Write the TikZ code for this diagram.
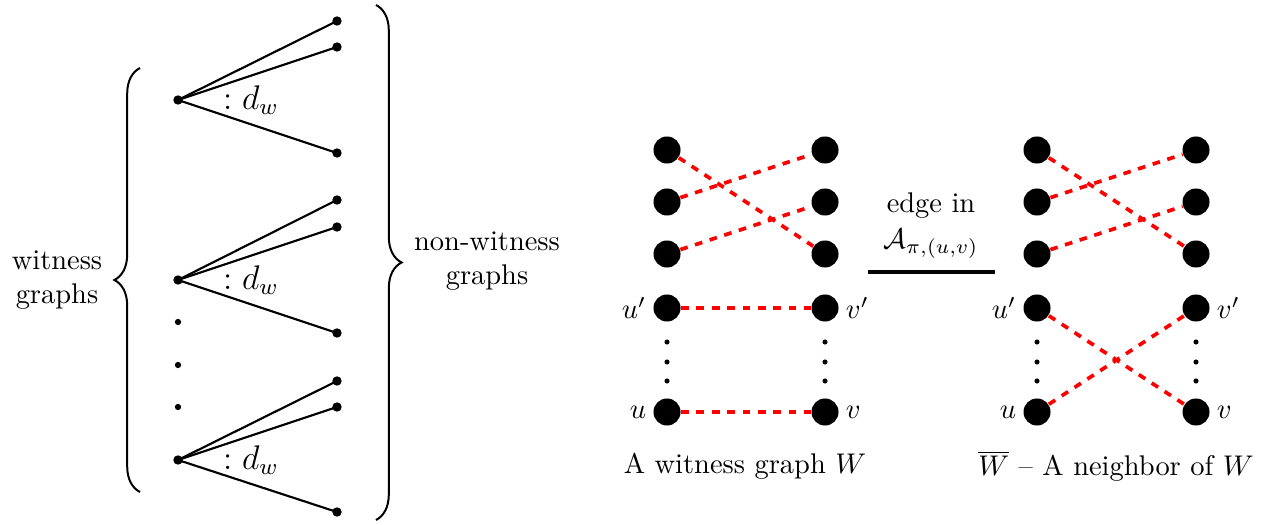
\documentclass[tikz,border=0pt]{standalone}
\usetikzlibrary{decorations.pathreplacing}
\begin{document}
\begin{tikzpicture}[x=0.3514pt,y=-0.3514pt,
  ldot/.style={circle,fill=black,inner sep=0pt,minimum size=3.3pt},
  sdot/.style={circle,fill=black,inner sep=0pt,minimum size=1.8pt},
  bdot/.style={circle,fill=black,inner sep=0pt,minimum size=9.5pt},
  ledge/.style={black,line width=0.75pt},
  redge/.style={red,line width=1.3pt,dash pattern=on 2.7pt off 2.7pt},
  bracestyle/.style={decorate,decoration={brace,amplitude=9pt},line width=0.7pt},
  lbl/.style={inner sep=1.2pt}]
\useasboundingbox (0,0) rectangle (1272,525);
% ---------- left part ----------
\foreach \g/\cy/\a/\b/\c in {1/100/21/47/153, 2/280/200/227/333, 3/460/381/407/512}{
  \node[ldot] (c\g) at (178,\cy) {};
  \node[ldot] (l\g a) at (337,\a) {};
  \node[ldot] (l\g b) at (337,\b) {};
  \node[ldot] (l\g c) at (337,\c) {};
  \draw[ledge] (c\g.center) -- (l\g a.center);
  \draw[ledge] (c\g.center) -- (l\g b.center);
  \draw[ledge] (c\g.center) -- (l\g c.center);
  \node[font=\large] (dw\g) at (251,\cy) {$: d_w$};
}
\node[sdot,minimum size=2.2pt] (m1) at (178,322) {};
\node[sdot,minimum size=2.2pt] (m2) at (178,365) {};
\node[sdot,minimum size=2.2pt] (m3) at (178,407) {};
\coordinate (lb1) at (140,492);
\coordinate (lb2) at (140,68);
\draw[bracestyle] (lb1) -- (lb2);
\node[align=center] (wg) at (57,280) {witness\\graphs};
\coordinate (rb1) at (376,5);
\coordinate (rb2) at (376,520);
\draw[bracestyle] (rb1) -- (rb2);
\node[align=center] (nwg) at (487,261) {non-witness\\graphs};
% ---------- witness graph W ----------
\foreach \n/\y in {1/150,2/202,3/254,4/308,5/412}{
  \node[bdot] (a\n) at (667,\y) {};
  \node[bdot] (b\n) at (825,\y) {};
  \node[bdot] (p\n) at (1037,\y) {};
  \node[bdot] (q\n) at (1196,\y) {};
}
\foreach \x/\nm in {667/a,825/b,1037/p,1196/q}{
  \node[sdot] (\nm d1) at (\x,342) {};
  \node[sdot] (\nm d2) at (\x,362) {};
  \node[sdot] (\nm d3) at (\x,381) {};
}
\draw[redge] (a1) -- (b3);
\draw[redge] (a2) -- (b1);
\draw[redge] (a3) -- (b2);
\draw[redge] (a4) -- (b4);
\draw[redge] (a5) -- (b5);
\node[lbl,anchor=east] (lu1) at ([xshift=-1pt]a4.west) {$u'$};
\node[lbl,anchor=west] (lv1) at ([xshift=1pt]b4.east) {$v'$};
\node[lbl,anchor=east] (lu2) at ([xshift=-1pt]a5.west) {$u$};
\node[lbl,anchor=west] (lv2) at ([xshift=1pt]b5.east) {$v$};
\node (capW) at (745,466) {A witness graph $W$};
% ---------- middle ----------
\node (edgein) at (931,206) {edge in};
\node (acal) at (931,244) {$\mathcal{A}_{\pi,(u,v)}$};
\coordinate (bar1) at (868,272);
\coordinate (bar2) at (995,272);
\draw[line width=1.7pt] (bar1) -- (bar2);
% ---------- neighbor graph ----------
\draw[redge] (p1) -- (q3);
\draw[redge] (p2) -- (q1);
\draw[redge] (p3) -- (q2);
\draw[redge] (p4) -- (q5);
\draw[redge] (p5) -- (q4);
\node[lbl,anchor=east] (lu3) at ([xshift=-1pt]p4.west) {$u'$};
\node[lbl,anchor=west] (lv3) at ([xshift=1pt]q4.east) {$v'$};
\node[lbl,anchor=east] (lu4) at ([xshift=-1pt]p5.west) {$u$};
\node[lbl,anchor=west] (lv4) at ([xshift=1pt]q5.east) {$v$};
\node (capN) at (1116,466) {$\overline{W}$ -- A neighbor of $W$};
\end{tikzpicture}
\end{document}
